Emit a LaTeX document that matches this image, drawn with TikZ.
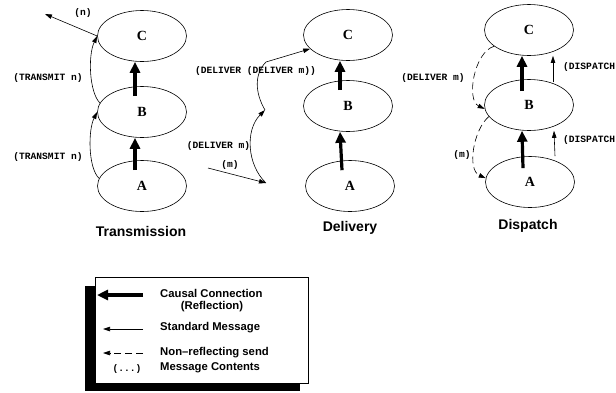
\documentclass[tikz,border=0pt]{standalone}
\usepackage{fontspec}
\setmainfont{Liberation Serif}
\setsansfont{Liberation Sans}
\setmonofont{Liberation Mono}
\usetikzlibrary{shapes.geometric,arrows.meta,calc}
\tikzset{
  ell/.style={ellipse, draw, line width=0.6pt, minimum width=89pt, minimum height=51pt, inner sep=0pt, font=\bfseries\fontsize{14}{14}\selectfont},
  causal/.style={line width=3.2pt, -{Triangle[length=11pt,width=10pt]}},
  msg/.style={line width=0.6pt, -{Triangle[length=7pt,width=4.5pt]}},
  nrsend/.style={msg, dash pattern=on 7pt off 4pt},
  lbl/.style={font=\ttfamily\bfseries\fontsize{9.6}{10}\selectfont, inner sep=0pt},
  ttl/.style={font=\sffamily\bfseries\fontsize{14}{14}\selectfont, inner sep=0pt},
  leg/.style={font=\sffamily\bfseries\fontsize{11.3}{12}\selectfont, anchor=west, inner sep=0pt}
}
\begin{document}
\begin{tikzpicture}[x=1pt,y=-1pt]
\useasboundingbox (0,0) rectangle (616,392);
% ---------- Transmission ----------
\node[ell] (tC) at (142,36) {C};
\node[ell] (tB) at (142,112) {B};
\node[ell] (tA) at (142,186) {A};
\draw[causal] ([xshift=-7pt,yshift=-10pt]tA.north) -- ([xshift=-7pt]tB.south);
\draw[causal] ([xshift=-7pt,yshift=-10pt]tB.north) -- ([xshift=-7pt]tC.south);
\draw[msg] (tA.170) .. controls (88,168) and (88,130) .. (tB.180);
\draw[msg] (tB.168) .. controls (89,92) and (88,55) .. (tC.180);
\coordinate (tn) at (45,14);
\draw[msg] (tC.180) -- (tn);
\node[lbl] (ln) at (83,13) {(n)};
\node[lbl] (lt1) at (48,78) {(TRANSMIT n)};
\node[lbl] (lt2) at (48,157) {(TRANSMIT n)};
\node[ttl] (tT) at (141,231) {Transmission};
% ---------- Delivery ----------
\node[ell] (dC) at (348,35) {C};
\node[ell] (dB) at (348,106) {B};
\node[ell] (dA) at (350,186) {A};
\draw[causal] ([xshift=-8pt,yshift=-10pt]dA.north) -- ([xshift=-8pt]dB.south);
\draw[causal] ([xshift=-8pt,yshift=-10pt]dB.north) -- ([xshift=-8pt]dC.south);
\coordinate (dm0) at (208,168);
\coordinate (dm1) at (266,183);
\coordinate (dm2) at (265,110);
\coordinate (dm3) at (266,62);
\draw[msg] (dm0) -- (dm1);
\draw[msg] (dm1) .. controls (247,165) and (245,130) .. (dm2);
\draw[msg] (dm2) .. controls (255,93) and (254,74) .. (dm3) -- (dC.200);
\node[lbl] (ldd) at (255.5,71) {(DELIVER (DELIVER m))};
\node[lbl] (ld1) at (218.5,146) {(DELIVER m)};
\node[lbl] (lm1) at (230,165) {(m)};
\node[ttl] (dT) at (350,228) {Delivery};
% ---------- Dispatch ----------
\node[ell] (pC) at (529,30) {C};
\node[ell] (pB) at (529,105) {B};
\node[ell] (pA) at (530,182) {A};
\draw[causal] ([xshift=-7pt,yshift=-12pt]pA.north) -- ([xshift=-7pt]pB.south);
\draw[causal] ([xshift=-7pt,yshift=-12pt]pB.north) -- ([xshift=-7pt]pC.south);
\draw[nrsend] (pC.205) .. controls (474,52) and (466,100) .. (pB.185);
\draw[nrsend] (pB.196) .. controls (473,130) and (467,170) .. (pA.175);
\draw[msg] ([xshift=25pt]pA.north) -- ([xshift=25pt]pB.south);
\draw[msg] ([xshift=24pt,yshift=-3pt]pB.north) -- ([xshift=24pt]pC.south);
\node[lbl] (lpd) at (433,78) {(DELIVER m)};
\node[lbl] (lpm) at (462,155) {(m)};
\node[lbl, anchor=west] (lds1) at (563,67) {(DISPATCH};
\node[lbl, anchor=west] (lds2) at (563,140) {(DISPATCH};
\node[ttl] (pT) at (528,226) {Dispatch};
% ---------- Legend ----------
\fill[black] (85,286) rectangle (300,391);
\draw[fill=white, line width=0.6pt] (95,277) rectangle (308,383);
\coordinate (g1a) at (143,295); \coordinate (g1b) at (97,295);
\coordinate (g2a) at (143,329); \coordinate (g2b) at (103,329);
\coordinate (g3a) at (143,353); \coordinate (g3b) at (103,353);
\draw[causal] (g1a) -- (g1b);
\draw[msg] (g2a) -- (g2b);
\draw[nrsend] (g3a) -- (g3b);
\node[leg] (e1) at (160,293) {Causal Connection};
\node[leg, anchor=center] (e1b) at (212,307) {(Reflection)};
\node[leg] (e2) at (160,328) {Standard Message};
\node[leg] (e3) at (160,353) {Non–reflecting send};
\node[lbl] (e4a) at (127,369) {(...)};
\node[leg] (e4) at (160,368) {Message Contents};
\end{tikzpicture}
\end{document}
